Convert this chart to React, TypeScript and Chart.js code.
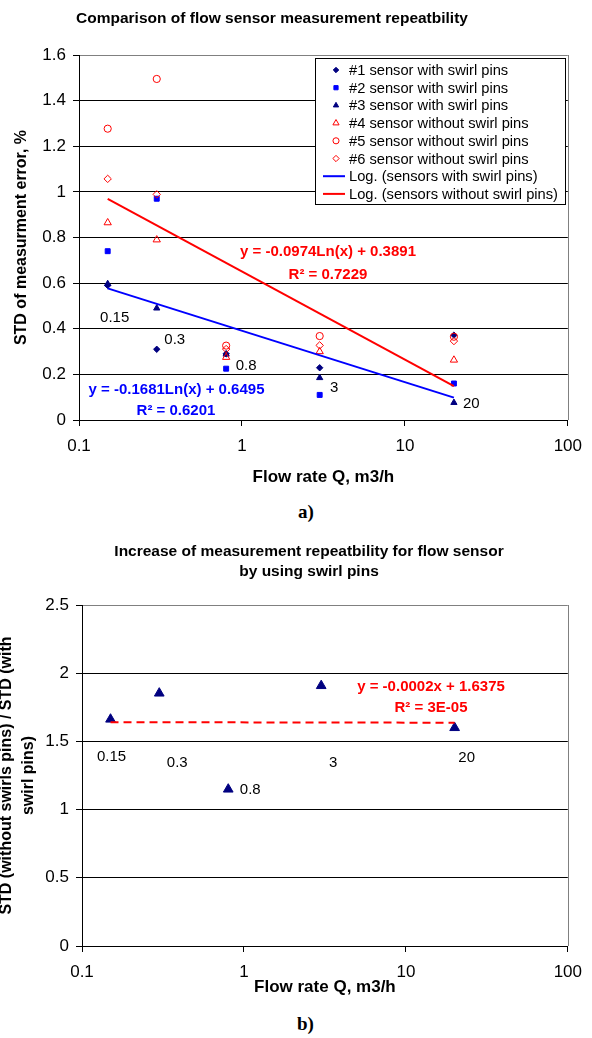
import React, { useEffect, useRef } from "react";
import { Chart, registerables } from "chart.js";
import { drawPoint } from "chart.js/helpers";

Chart.register(...registerables);

const FONT = "'Liberation Sans', Arial, sans-serif";
const NAVY = "#000080";
const BLUE = "#0000FF";
const RED = "#FF0000";
const GRAY = "#808080";

// ---------- data ----------
const flowRates = [0.15, 0.3, 0.8, 3, 20];
const flowLabels = ["0.15", "0.3", "0.8", "3", "20"];

const sensor1 = [0.59, 0.31, 0.29, 0.229, 0.372];
const sensor2 = [0.74, 0.97, 0.225, 0.11, 0.16];
const sensor3 = [0.597, 0.49, 0.288, 0.185, 0.076];
const sensor4 = [0.865, 0.79, 0.275, 0.3, 0.263];
const sensor5 = [1.277, 1.495, 0.326, 0.368, 0.365];
const sensor6 = [1.057, 0.989, 0.311, 0.327, 0.346];

const trendX = [0.15, 20];
const trendWithSwirl = [0.577, 0.098];
const trendWithoutSwirl = [0.969, 0.148];

const ratio = [1.662, 1.853, 1.149, 1.908, 1.6];
const ratioTrend = [1.641, 1.637];

const xTicks = [0.1, 1, 10, 100];
const yTicksTop = [0, 0.2, 0.4, 0.6, 0.8, 1, 1.2, 1.4, 1.6];
const yTicksBottom = [0, 0.5, 1, 1.5, 2, 2.5];

// data-label anchor values (y in data units)
const topLabelY = [0.449, 0.351, 0.237, 0.142, 0.069];
const bottomLabelY = [1.386, 1.342, 1.144, 1.342, 1.378];

const legendLabels = [
  "#1 sensor with swirl pins",
  "#2 sensor with swirl pins",
  "#3 sensor with swirl pins",
  "#4 sensor without swirl pins",
  "#5 sensor without swirl pins",
  "#6 sensor without swirl pins",
  "Log. (sensors with swirl pins)",
  "Log. (sensors without swirl pins)",
];

const pts = (xs: number[], ys: number[]) => xs.map((x, i) => ({ x, y: ys[i] }));

// ---------- plugins ----------
type TextItem = { text: string; x: number; y: number; font: string; color: string };

function makeTextPlugin(
  items: TextItem[],
  labels: { text: string[]; x: number[]; y: number[]; dx: number[] }
) {
  return {
    id: "textItems",
    afterDatasetsDraw(chart: any) {
      const ctx = chart.ctx;
      ctx.save();
      ctx.textAlign = "center";
      ctx.textBaseline = "middle";
      for (const t of items) {
        ctx.font = t.font;
        ctx.fillStyle = t.color;
        ctx.fillText(t.text, t.x, t.y);
      }
      const xs = chart.scales.x;
      const ys = chart.scales.y;
      ctx.font = `15px ${FONT}`;
      ctx.fillStyle = "#000";
      labels.x.forEach((xv, i) => {
        ctx.fillText(labels.text[i], xs.getPixelForValue(xv) + labels.dx[i], ys.getPixelForValue(labels.y[i]));
      });
      ctx.restore();
    },
  };
}

const borderPlugin = {
  id: "plotBorder",
  beforeDatasetsDraw(chart: any) {
    const { ctx, chartArea } = chart;
    ctx.save();
    ctx.strokeStyle = GRAY;
    ctx.lineWidth = 1;
    ctx.beginPath();
    ctx.moveTo(Math.round(chartArea.right) + 0.5, chartArea.top);
    ctx.lineTo(Math.round(chartArea.right) + 0.5, chartArea.bottom);
    ctx.stroke();
    ctx.restore();
  },
};

function makeLegendPlugin(box: { x: number; y: number; w: number; h: number }) {
  return {
    id: "boxLegend",
    afterDatasetsDraw(chart: any) {
      const ctx = chart.ctx;
      ctx.save();
      ctx.fillStyle = "#fff";
      ctx.fillRect(box.x, box.y, box.w, box.h);
      ctx.strokeStyle = "#000";
      ctx.lineWidth = 1;
      ctx.strokeRect(box.x + 0.5, box.y + 0.5, box.w, box.h);
      const rowH = 17.7;
      const markX = box.x + 21;
      ctx.font = `14.7px ${FONT}`;
      ctx.textAlign = "left";
      ctx.textBaseline = "middle";
      chart.data.datasets.forEach((ds: any, i: number) => {
        const cy = box.y + 12 + i * rowH;
        if (ds.showLine) {
          ctx.strokeStyle = ds.borderColor;
          ctx.lineWidth = 2;
          ctx.beginPath();
          ctx.moveTo(box.x + 8, cy);
          ctx.lineTo(box.x + 30, cy);
          ctx.stroke();
        } else {
          ctx.fillStyle = ds.backgroundColor;
          ctx.strokeStyle = ds.borderColor;
          ctx.lineWidth = ds.borderWidth;
          drawPoint(ctx, { pointStyle: ds.pointStyle, radius: ds.pointRadius * 0.85, rotation: 0, borderWidth: ds.borderWidth }, markX, cy);
        }
        ctx.fillStyle = "#000";
        ctx.fillText(ds.label, box.x + 34, cy + 1);
      });
      ctx.restore();
    },
  };
}

// ---------- shared scale options ----------
const tickFont = { family: FONT, size: 17 };

function xScale(height: number, titlePad: number) {
  return {
    type: "logarithmic" as const,
    min: 0.1,
    max: 100,
    afterBuildTicks: (s: any) => {
      s.ticks = xTicks.map((v) => ({ value: v }));
    },
    afterFit: (s: any) => {
      s.height = height;
    },
    ticks: {
      font: tickFont,
      color: "#000",
      padding: 10,
      autoSkip: false,
      maxRotation: 0,
      callback: (v: any) => String(v),
    },
    grid: { drawOnChartArea: false, drawTicks: true, tickLength: 6, color: "#000" },
    border: { display: true, color: "#000", width: 1 },
    title: {
      display: true,
      text: "Flow rate Q, m3/h",
      color: "#000",
      font: { family: FONT, size: 17, weight: "bold" as const },
      padding: { top: 0, bottom: titlePad },
    },
  };
}

function yScale(max: number, ticks: number[], width: number, title: any, titlePad: number, lh: number) {
  return {
    min: 0,
    max,
    afterBuildTicks: (s: any) => {
      s.ticks = ticks.map((v) => ({ value: v }));
    },
    afterFit: (s: any) => {
      s.width = width;
    },
    ticks: {
      font: tickFont,
      color: "#000",
      padding: 7,
      callback: (v: any) => String(Number(Number(v).toFixed(1))),
    },
    grid: {
      color: (c: any) => (c.tick && Math.abs(c.tick.value - max) < 1e-9 ? GRAY : "#000"),
      tickColor: "#000",
      tickLength: 6,
      lineWidth: 1,
    },
    border: { display: true, color: "#000", width: 1 },
    title: {
      display: true,
      text: title,
      color: "#000",
      font: { family: FONT, size: 16, weight: "bold" as const, lineHeight: lh },
      padding: { top: titlePad, bottom: 0 },
    },
  };
}

function marker(label: string, ys: number[], style: string, color: string, filled: boolean, r: number, order: number) {
  return {
    label,
    data: pts(flowRates, ys),
    pointStyle: style,
    pointRadius: r,
    pointHoverRadius: r,
    backgroundColor: filled ? color : "rgba(0,0,0,0)",
    borderColor: color,
    borderWidth: 1,
    showLine: false,
    order,
  };
}

function TopChart() {
  const ref = useRef<HTMLCanvasElement>(null);
  useEffect(() => {
    const datasets: any[] = [
      marker(legendLabels[0], sensor1, "rectRot", NAVY, true, 3.2, 6),
      marker(legendLabels[1], sensor2, "rect", BLUE, true, 3.5, 5),
      marker(legendLabels[2], sensor3, "triangle", NAVY, true, 3.6, 4),
      marker(legendLabels[3], sensor4, "triangle", RED, false, 4.2, 3),
      marker(legendLabels[4], sensor5, "circle", RED, false, 3.6, 2),
      marker(legendLabels[5], sensor6, "rectRot", RED, false, 3.7, 1),
      {
        label: legendLabels[6],
        data: pts(trendX, trendWithSwirl),
        showLine: true,
        borderColor: BLUE,
        backgroundColor: BLUE,
        borderWidth: 2,
        pointRadius: 0,
        order: 0,
      },
      {
        label: legendLabels[7],
        data: pts(trendX, trendWithoutSwirl),
        showLine: true,
        borderColor: RED,
        backgroundColor: RED,
        borderWidth: 2,
        pointRadius: 0,
        order: 0,
      },
    ];
    const bold15 = `bold 15px ${FONT}`;
    const chart = new Chart(ref.current as HTMLCanvasElement, {
      type: "scatter",
      data: { datasets },
      options: {
        animation: false,
        responsive: false,
        devicePixelRatio: 1,
        layout: { padding: { left: 0, right: 17, top: 55, bottom: 10 } },
        plugins: { legend: { display: false }, tooltip: { enabled: false } },
        scales: {
          x: xScale(70, 2.8),
          y: yScale(1.6, yTicksTop, 79, "STD of measurment error, %", 12.4, 1.2),
        },
      } as any,
      plugins: [
        borderPlugin,
        makeTextPlugin(
          [
            { text: "Comparison of flow sensor measurement repeatbility", x: 272, y: 18.5, font: `bold 15.5px ${FONT}`, color: "#000" },
            { text: "y = -0.0974Ln(x) + 0.3891", x: 328, y: 252, font: bold15, color: RED },
            { text: "R² = 0.7229", x: 328, y: 275, font: bold15, color: RED },
            { text: "y = -0.1681Ln(x) + 0.6495", x: 176.5, y: 390, font: bold15, color: BLUE },
            { text: "R² = 0.6201", x: 176, y: 410.5, font: bold15, color: BLUE },
          ],
          { text: flowLabels, x: flowRates, y: topLabelY, dx: [7, 18, 20, 14.6, 17.3] }
        ),
        makeLegendPlugin({ x: 315, y: 58, w: 250, h: 146 }),
      ],
    });
    return () => chart.destroy();
  }, []);
  return <canvas ref={ref} width={592} height={500} style={{ position: "absolute", left: 0, top: 0 }} />;
}

function BottomChart() {
  const ref = useRef<HTMLCanvasElement>(null);
  useEffect(() => {
    const bold15 = `bold 15px ${FONT}`;
    const chart = new Chart(ref.current as HTMLCanvasElement, {
      type: "scatter",
      data: {
        datasets: [
          {
            label: "ratio",
            data: pts(flowRates, ratio),
            pointStyle: "triangle",
            pointRadius: 5.6,
            pointHoverRadius: 5.6,
            backgroundColor: NAVY,
            borderColor: NAVY,
            borderWidth: 1,
            showLine: false,
            order: 1,
          },
          {
            label: "Linear",
            data: pts(trendX, ratioTrend),
            showLine: true,
            borderColor: RED,
            borderWidth: 2,
            borderDash: [8, 5],
            pointRadius: 0,
            order: 0,
          },
        ],
      },
      options: {
        animation: false,
        responsive: false,
        devicePixelRatio: 1,
        layout: { padding: { left: 0, right: 15, top: 75, bottom: 4 } },
        plugins: { legend: { display: false }, tooltip: { enabled: false } },
        scales: {
          x: xScale(60, 8.8),
          y: yScale(2.5, yTicksBottom, 82, ["STD (without swirls pins) / STD (with", "swirl pins)"], -4, 1.375),
        },
      } as any,
      plugins: [
        borderPlugin,
        makeTextPlugin(
          [
            { text: "Increase of measurement repeatbility for flow sensor", x: 309, y: 22, font: `bold 15.5px ${FONT}`, color: "#000" },
            { text: "by using swirl pins", x: 309, y: 42, font: `bold 15.5px ${FONT}`, color: "#000" },
            { text: "y = -0.0002x + 1.6375", x: 431, y: 156.7, font: bold15, color: RED },
            { text: "R² = 3E-05", x: 431, y: 178, font: bold15, color: RED },
          ],
          { text: flowLabels, x: flowRates, y: bottomLabelY, dx: [1, 18, 22, 12, 12] }
        ),
      ],
    });
    return () => chart.destroy();
  }, []);
  return <canvas ref={ref} width={592} height={480} style={{ position: "absolute", left: 0, top: 530 }} />;
}

const captionStyle: React.CSSProperties = {
  position: "absolute",
  fontFamily: "'Liberation Serif', 'Times New Roman', serif",
  fontWeight: "bold",
  fontSize: 19,
  lineHeight: "24px",
  color: "#000",
};

export default function App() {
  return (
    <div style={{ position: "absolute", left: 0, top: 0, width: 592, height: 1038, background: "#fff" }}>
      <TopChart />
      <div style={{ ...captionStyle, left: 298, top: 500 }}>a)</div>
      <BottomChart />
      <div style={{ ...captionStyle, left: 297, top: 1012 }}>b)</div>
    </div>
  );
}
